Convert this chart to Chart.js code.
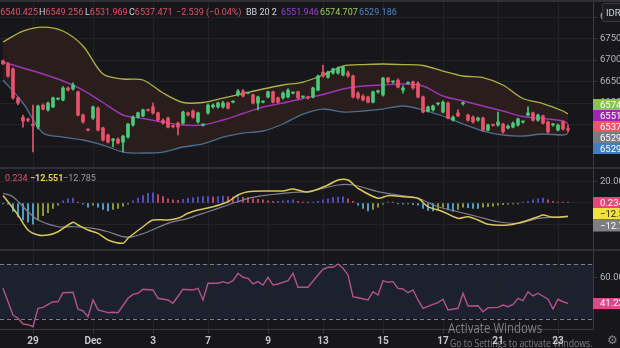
<!DOCTYPE html>
<html>
<head>
<meta charset="utf-8">
<script src="https://cdn.jsdelivr.net/npm/chart.js"></script>
<style>
  html, body { margin: 0; padding: 0; }
  body { width: 620px; height: 348px; position: relative; overflow: hidden; background: #17171b;
         font-family: "Liberation Sans Narrow", Roboto, sans-serif; }
  canvas { position: absolute; left: 0; }
  .sep { position: absolute; left: 0; width: 620px; height: 2px; background: #303036; }
  .lg { position: absolute; white-space: nowrap; font-size: 9px; line-height: 11px; }
  .w { color: #d1d4dc; } .r { color: #e0536a; }
  #idr { position: absolute; left: 602px; top: 3px; width: 30px; height: 17px; border: 1px solid #3a3a40;
         border-radius: 3px; background: #1c1c20; color: #d1d4dc; font-size: 9.5px; line-height: 17px; text-indent: 3px; }
  .wm { position: absolute; white-space: nowrap; color: rgba(205,205,210,0.55); font-family: "Open Sans", sans-serif;
        transform-origin: left top; }
</style>
</head>
<body>
<div class="sep" style="top:0"></div>
<canvas id="priceChart" width="620" height="165" style="top:2px"></canvas>
<div class="sep" style="top:167px"></div>
<canvas id="macdChart" width="620" height="80" style="top:169px"></canvas>
<div class="sep" style="top:249px"></div>
<canvas id="rsiChart" width="620" height="97" style="top:251px"></canvas>

<!-- legend lines -->
<div class="lg" style="left:-6px;top:7px"><span class="w">O</span><span class="r">6540.425</span></div>
<div class="lg" style="left:39px;top:7px"><span class="w">H</span><span class="r">6549.256</span></div>
<div class="lg" style="left:85px;top:7px"><span class="w">L</span><span class="r">6531.969</span></div>
<div class="lg" style="left:129px;top:7px"><span class="w">C</span><span class="r">6537.471</span></div>
<div class="lg r" style="left:176px;top:7px">−2.539 (−0.04%)</div>
<div class="lg w" style="left:246px;top:7px">BB 20 2</div>
<div class="lg" style="left:281px;top:7px;color:#9b3fd0">6551.946</div>
<div class="lg" style="left:320px;top:7px;color:#9bd15a">6574.707</div>
<div class="lg" style="left:359px;top:7px;color:#4f86c6">6529.186</div>
<div id="idr">IDR</div>

<div class="lg r" style="left:5px;top:173px">0.234</div>
<div class="lg" style="left:30px;top:173px;color:#e6d44a;font-weight:bold">−12.551</div>
<div class="lg" style="left:63px;top:173px;color:#9a9aa2">−12.785</div>

<div class="wm" style="left:448px;top:318px;font-size:14px;transform:scaleX(0.82)">Activate Windows</div>
<div class="wm" style="left:450px;top:335px;font-size:11px;transform:scaleX(0.79)">Go to Settings to activate Windows.</div>
<div class="wm" style="left:607px;top:333px;font-size:12px;color:#8a8a90;font-family:'DejaVu Sans'">⚙</div>

<script>
// 4h candles, oldest first
const candleOpen  = [6698,6691,6679,6612,6567,6561,6551,6544,6595,6584,6591,6609,6607,6635,6633,6626,6572,6538,6565,6588,
                     6542,6526,6513,6516,6509,6521,6549,6567,6570,6584,6591,6577,6560,6565,6546,6553,6553,6577,6581,6556,
                     6549,6577,6591,6591,6591,6600,6602,6619,6628,6623,6619,6600,6602,6614,6626,6612,6612,6614,6623,6626,
                     6614,6614,6614,6630,6672,6660,6670,6670,6665,6670,6663,6623,6616,6614,6602,6626,6619,6658,6649,6653,
                     6630,6646,6649,6646,6614,6581,6584,6598,6579,6600,6560,6577,6598,6572,6567,6560,6565,6537,6549,6549,
                     6551,6542,6544,6549,6556,6572,6577,6560,6570,6556,6549,6537,6556,6540.425];
const candleHigh  = [6700,6694,6682,6614,6572,6565,6595,6595,6598,6602,6614,6612,6638,6637,6647,6628,6574,6540,6593,6591,
                     6544,6528,6518,6519,6525,6553,6570,6579,6586,6586,6600,6579,6563,6567,6549,6556,6581,6579,6584,6579,
                     6551,6598,6598,6602,6604,6602,6605,6631,6631,6625,6621,6616,6605,6628,6628,6614,6626,6633,6626,6628,
                     6616,6616,6637,6665,6688,6674,6681,6684,6686,6674,6665,6626,6619,6616,6628,6630,6660,6660,6651,6656,
                     6640,6649,6651,6649,6616,6593,6595,6600,6605,6602,6570,6584,6602,6574,6570,6567,6567,6551,6551,6579,
                     6553,6549,6556,6565,6558,6591,6579,6574,6572,6558,6553,6551,6558,6549.256];
const candleLow   = [6689,6660,6609,6596,6544,6556,6486,6540,6584,6581,6589,6607,6605,6628,6630,6570,6553,6535,6562,6535,
                     6512,6507,6498,6505,6486,6518,6546,6565,6568,6581,6574,6558,6551,6542,6542,6526,6551,6570,6565,6553,
                     6546,6574,6588,6588,6588,6586,6600,6616,6614,6621,6598,6584,6600,6612,6600,6600,6609,6612,6621,6609,
                     6612,6609,6612,6628,6660,6658,6667,6667,6663,6660,6612,6609,6605,6600,6600,6623,6616,6646,6646,6635,
                     6623,6644,6632,6612,6577,6579,6581,6595,6577,6563,6558,6568,6595,6558,6553,6558,6535,6535,6546,6546,
                     6530,6540,6542,6546,6553,6570,6558,6558,6551,6530,6546,6535,6537,6531.969];
const candleClose = [6691,6663,6612,6600,6558,6560,6547,6593,6586,6600,6612,6610,6635,6630,6642,6572,6556,6537,6591,6537,
                     6514,6509,6516,6507,6523,6551,6567,6577,6584,6583,6577,6561,6553,6544,6545,6544,6579,6572,6567,6577,
                     6549,6595,6595,6600,6600,6588,6602,6628,6616,6623,6600,6614,6603,6626,6602,6602,6623,6630,6624,6612,
                     6614,6612,6635,6663,6663,6672,6679,6681,6684,6663,6614,6612,6607,6602,6626,6626,6658,6649,6649,6637,
                     6635,6646,6635,6614,6579,6591,6593,6598,6602,6565,6567,6570,6600,6560,6556,6565,6537,6549,6548,6556,
                     6533,6546,6553,6563,6556,6577,6560,6572,6553,6533,6549,6549,6540,6537.471];

// Bollinger Bands (20, 2), read every 4 candles
const bandIdx   = [0,4,8,12,16,20,24,28,32,36,40,44,48,52,56,60,64,68,72,76,80,84,88,92,96,100,104,108,112,113];
const bandUpper = [6741.9,6767.4,6776.7,6767.4,6732.6,6667.4,6655.8,6653.5,6623.3,6601.2,6601.2,6611.6,6622.1,6632.6,6641.9,
                   6648.8,6665.1,6686.0,6689.5,6690.7,6689.5,6687.2,6674.4,6662.8,6659.3,6641.9,6610.5,6598.8,6581.4,6574.707];
const bandMid   = [6695.3,6681.4,6667.4,6651.2,6630.2,6601.2,6572.1,6564.0,6555.8,6548.8,6548.8,6560.5,6575.6,6590.7,6600.0,
                   6610.5,6619.8,6632.6,6639.5,6641.9,6644.2,6639.5,6616.3,6604.7,6593.0,6581.4,6568.6,6564.0,6558.1,6551.946];
const bandLower = [6653.5,6600.0,6530.2,6520.9,6514.0,6502.3,6486.0,6483.7,6486.0,6497.7,6504.7,6520.9,6530.2,6534.9,6551.2,
                   6574.4,6586.0,6579.1,6581.4,6586.0,6593.0,6583.7,6569.8,6551.2,6534.9,6525.6,6523.3,6527.9,6525.6,6529.186];

// MACD histogram, one value per candle
const macdHist = [-0.5,-1,-8,-13,-16,-18,-20,-16,-12,-9,-5,-2,2,4,4.5,0.5,-1,-4,-2,-4,
                  -6,-7.5,-6,-5,-3,-1,2,4.5,7,9,9.5,8,6,4,3,2.5,3.5,4.5,5,5.5,
                  6,6,5.5,6,6.5,6,5.8,6.5,5.5,5,4,3.5,3,2,1.5,1.5,2,2.5,3,1.5,
                  0.5,0.3,0.5,1.5,3,4,5,5.5,5.8,4,1.5,-2,-5,-7.5,-6,-4,-1,0.5,0.3,-0.5,
                  -1,-0.5,-1.5,-2,-5,-7,-7.5,-6,-4,-6.5,-8,-6,-4,-4.5,-5,-5.2,-4,-3.5,-3,-2,
                  -1.5,-1,-0.5,-0.3,0.3,1.5,3,4,4.5,3,1.5,0.5,0.3,0.234];
const macdIdx  = [0,1,3,5,7,9,11,14,15,17,19,21,24,25,28,30,33,35,37,39,42,45,47,49,53,56,58,61,65,67,69,71,75,77,80,83,85,88,91,93,95,97,101,104,107,108,110,113];
const macdLine = [7.0,1.2,-11.3,-25.4,-30,-30,-27,-18.1,-20.7,-25.4,-28.5,-34.7,-37.8,-33.1,-22.3,-16,-16,-14.4,-9.7,-6.6,-3.5,1.2,7.5,10.6,
                  11.3,11.3,13.1,10.3,16.9,21.6,21.6,13.8,4.4,6.9,5.9,4.4,-3.5,-8.2,-14.4,-12.9,-16,-20,-20.7,-17.6,-12.9,-11.3,-13.4,-12.551];
const signalIdx  = [0,2,5,7,11,14,18,21,24,26,29,33,37,41,45,49,53,58,61,67,70,75,79,83,87,91,95,99,103,107,110,113];
const signalLine = [9.1,5.9,-8.2,-16,-22.3,-22.3,-23.8,-27,-31.6,-31.6,-27,-19.1,-14.4,-8.2,-1.9,4.4,
                    7.5,10,10.6,16.9,16.9,10.6,7.5,4.4,-3.5,-8.2,-12.9,-17.6,-19.1,-14.4,-13.4,-12.785];

// RSI
const rsiIdx  = [0,2,3,4,5,6,7,8,10,11,12,14,15,16,17,18,19,21,22,23,25,26,27,28,30,31,33,34,36,38,39,40,41,43,44,45,46,47,48,49,
                 50,51,52,53,54,55,57,58,59,61,63,64,65,66,67,68,69,70,71,73,74,75,76,77,78,79,80,81,82,83,84,86,87,88,89,91,92,93,95,96,
                 97,99,100,101,102,103,104,105,106,107,109,110,111,112,113];
const rsiLine = [52.2,32.7,30.3,26.1,25.6,24.1,37.6,38.3,42.4,42.4,49,49.3,36.9,35.8,31.4,43.7,36.4,34.4,34.7,34.4,44.9,47.8,48.6,51.5,51,44.9,43.7,41.3,51.5,51,
                 52.2,43.7,55.9,55.9,57.1,55.9,57.8,63.2,60.3,59.5,55.4,57.1,54.6,60.3,54.6,55.4,57.8,63.2,53,53,62,66.1,67.6,67.6,70,66.9,62,46.1,45.3,43.7,
                 49.7,47.3,57.8,56.6,57.1,52.2,51.7,49,51,43.7,37.6,40.5,41.7,44.2,36.4,37.6,48.6,39.3,39.5,35.1,38,38.3,40,38.8,40.5,44.9,43.2,49.7,46.6,48.6,
                 44.2,37.1,44.2,42.4,41.233];

const dateTicks  = [6,18,30,41,53,64,76,88,99,111];
const dateLabels = ['29','Dec','3','7','9','13','15','17','21','23'];
const priceTicks = [6500,6550,6600,6650,6700,6750,6800];
const macdTicks  = [20,0,-20];
const rsiTicks   = [60,40];

const BG = '#17171b', GRID = '#222227', AXIS = '#3a3a40', TXT = '#b2b5be';
const FONT = '"Liberation Sans Narrow", Roboto, sans-serif';
const UP = '#4cc97a', DOWN = '#e8536b';

function xAxis(show) {
  return {
    type: 'linear', min: -0.6, max: 118, offset: false,
    afterBuildTicks: s => { s.ticks = dateTicks.map(v => ({ value: v })); },
    ticks: { display: show, autoSkip: false, maxRotation: 0, color: '#c3c6cd', padding: 2,
             font: { size: 10, family: FONT, weight: 'bold' }, callback: v => dateLabels[dateTicks.indexOf(v)] },
    grid: { color: GRID, offset: false, drawTicks: show, tickLength: 4, tickColor: AXIS },
    border: { display: show, color: AXIS },
    afterFit: s => { s.height = show ? 19 : 0; s.paddingLeft = 0; s.paddingRight = 0; }
  };
}
function yAxis(min, max, ticks) {
  return {
    position: 'right', min: min, max: max,
    afterBuildTicks: s => { s.ticks = ticks.map(v => ({ value: v })); },
    ticks: { color: TXT, padding: 3, font: { size: 9.5, family: FONT }, callback: v => v.toFixed(3) },
    grid: { color: GRID, tickColor: AXIS, tickLength: 4 },
    border: { color: AXIS },
    afterFit: s => { s.width = 27; s.paddingTop = 0; s.paddingBottom = 0; }
  };
}
function baseOptions(x, y) {
  return {
    responsive: false, animation: false, devicePixelRatio: 1, events: [],
    layout: { padding: 0 },
    plugins: { legend: { display: false }, tooltip: { enabled: false }, filler: { drawTime: 'beforeDatasetsDraw' } },
    scales: { x: x, y: y }
  };
}
const background = {
  id: 'background',
  beforeDraw(chart) {
    chart.ctx.save();
    chart.ctx.fillStyle = BG;
    chart.ctx.fillRect(0, 0, chart.width, chart.height);
    chart.ctx.restore();
  }
};
// value labels on the right axis; overlapping ones are pushed apart around their mean,
// a pinned label stays on its value and the others move away from it
function axisBoxes(items, h) {
  return {
    id: 'axisBoxes',
    afterDraw(chart) {
      const ctx = chart.ctx, left = chart.chartArea.right, ys = chart.scales.y;
      const list = items.map(it => Object.assign({}, it, { py: ys.getPixelForValue(it.value) }))
                        .sort((a, b) => a.py - b.py);
      let groups = list.map(m => ({ members: [m], c: m.py, pin: !!m.pin }));
      for (let guard = 0; guard < 50; guard++) {
        let changed = false;
        for (let k = 0; k < groups.length - 1; k++) {
          const a = groups[k], b = groups[k + 1];
          const gap = (a.c + a.members.length * h / 2) - (b.c - b.members.length * h / 2);
          if (gap <= 0.01) continue;
          if (a.pin) { b.c += gap; }
          else if (b.pin) { a.c -= gap; }
          else {
            const members = a.members.concat(b.members);
            groups.splice(k, 2, { members: members, c: members.reduce((s, m) => s + m.py, 0) / members.length, pin: false });
          }
          changed = true;
          break;
        }
        if (!changed) break;
      }
      ctx.save();
      ctx.font = '9.5px ' + FONT;
      ctx.textBaseline = 'middle';
      groups.forEach(g => g.members.forEach((m, j) => {
        const cy = g.c + (j - (g.members.length - 1) / 2) * h;
        ctx.fillStyle = m.bg;
        ctx.fillRect(left, Math.round(cy - h / 2), chart.width - left, h);
        ctx.fillStyle = m.fg;
        ctx.fillText(m.text, left + 7, cy + 0.5);
      }));
      ctx.restore();
    }
  };
}

// ---- price pane ----
const idx = candleOpen.map((_, i) => i);
const candleColor = idx.map(i => candleClose[i] >= candleOpen[i] ? UP : DOWN);
const pts = (xs, ys) => xs.map((x, k) => ({ x: x, y: ys[k] }));

new Chart(document.getElementById('priceChart'), {
  type: 'bar',
  data: {
    datasets: [
      { type: 'line', data: pts(bandIdx, bandUpper), borderColor: '#a8b545', borderWidth: 1.3, pointRadius: 0,
        tension: 0.3, fill: 2, backgroundColor: '#2a1e1d', order: 5 },
      { type: 'line', data: pts(bandIdx, bandMid), borderColor: '#9e35b5', borderWidth: 1.4, pointRadius: 0,
        tension: 0.3, fill: false, order: 5 },
      { type: 'line', data: pts(bandIdx, bandLower), borderColor: '#4c6d8f', borderWidth: 1.3, pointRadius: 0,
        tension: 0.3, fill: false, order: 5 },
      { type: 'bar', data: idx.map(i => ({ x: i, y: [candleLow[i], candleHigh[i]] })), backgroundColor: candleColor,
        barThickness: 1, grouped: false, order: 1 },
      { type: 'bar', data: idx.map(i => ({ x: i, y: [Math.min(candleOpen[i], candleClose[i]), Math.max(candleOpen[i], candleClose[i])] })),
        backgroundColor: candleColor, barThickness: 3, minBarLength: 1, grouped: false, order: 0 }
    ]
  },
  options: baseOptions(xAxis(false), yAxis(6451.2, 6834.9, priceTicks)),
  plugins: [background, axisBoxes([
    { value: 6574.707, text: '6574.707', bg: '#8bc34a', fg: '#ffffff' },
    { value: 6551.946, text: '6551.946', bg: '#9c27b0', fg: '#ffffff' },
    { value: 6537.471, text: '6537.471', bg: '#ef5366', fg: '#ffffff' },
    { value: 6529.560, text: '6529.560', bg: '#7b7b82', fg: '#ffffff' },
    { value: 6529.186, text: '6529.186', bg: '#3f7fc0', fg: '#ffffff' }
  ], 11)]
});

// ---- MACD pane ----
const histColor = macdHist.map((v, i) => {
  const prev = i ? macdHist[i - 1] : v;
  if (v >= 0) return v >= prev ? '#5f57dd' : '#e0506a';
  return v <= prev ? '#58b9e6' : '#9fb23a';
});
new Chart(document.getElementById('macdChart'), {
  type: 'bar',
  data: {
    datasets: [
      { type: 'bar', data: idx.map(i => ({ x: i, y: macdHist[i] })), backgroundColor: histColor,
        barThickness: 1, minBarLength: 1, grouped: false, order: 2 },
      { type: 'line', data: pts(macdIdx, macdLine), borderColor: '#d9c757', borderWidth: 1.5, pointRadius: 0,
        tension: 0.3, fill: false, order: 0 },
      { type: 'line', data: pts(signalIdx, signalLine), borderColor: '#80808e', borderWidth: 1.2, pointRadius: 0,
        tension: 0.3, fill: false, order: 1 }
    ]
  },
  options: baseOptions(xAxis(false), yAxis(-43.2, 31.9, macdTicks)),
  plugins: [background, axisBoxes([
    { value: 0.234, text: '0.234', bg: '#e8457a', fg: '#ffffff', pin: true },
    { value: -12.551, text: '−12.551', bg: '#f2e13c', fg: '#1a1a1a' },
    { value: -12.785, text: '−12.785', bg: '#7e7e86', fg: '#ffffff' }
  ], 11.5)]
});

// ---- RSI pane ----
const rsiBand = {
  id: 'rsiBand',
  beforeDraw(chart) {
    const ys = chart.scales.y, a = chart.chartArea, ctx = chart.ctx;
    const top = ys.getPixelForValue(70), bot = ys.getPixelForValue(30);
    ctx.save();
    ctx.fillStyle = '#1c2130';
    ctx.fillRect(a.left, top, a.right - a.left, bot - top);
    ctx.restore();
  },
  beforeDatasetsDraw(chart) {
    const ys = chart.scales.y, a = chart.chartArea, ctx = chart.ctx;
    ctx.save();
    ctx.strokeStyle = '#7b7f8c';
    ctx.lineWidth = 1;
    ctx.setLineDash([4, 3]);
    [70, 30].forEach(v => {
      const y = Math.round(ys.getPixelForValue(v)) + 0.5;
      ctx.beginPath(); ctx.moveTo(a.left, y); ctx.lineTo(a.right, y); ctx.stroke();
    });
    ctx.restore();
  }
};
new Chart(document.getElementById('rsiChart'), {
  type: 'line',
  data: {
    datasets: [
      { data: pts(rsiIdx, rsiLine), borderColor: '#b5528a', borderWidth: 1.4, pointRadius: 0, tension: 0, fill: false }
    ]
  },
  options: baseOptions(xAxis(true), yAxis(22.45, 79.51, rsiTicks)),
  plugins: [background, rsiBand, axisBoxes([
    { value: 41.233, text: '41.233', bg: '#e2468a', fg: '#ffffff' }
  ], 11)]
});
</script>
</body>
</html>
